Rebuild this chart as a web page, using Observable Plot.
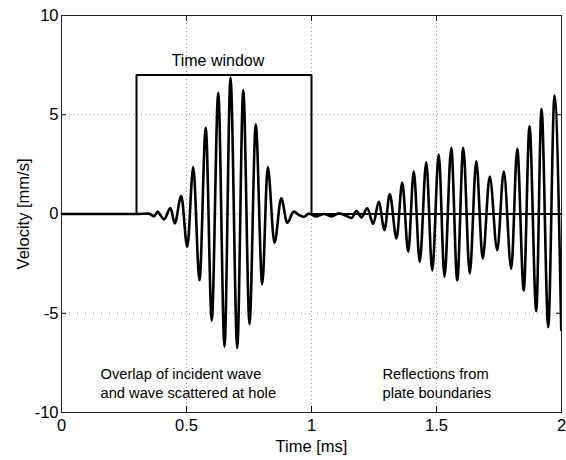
<!DOCTYPE html>
<html>
<head>
<meta charset="utf-8">
<script src="https://cdn.jsdelivr.net/npm/d3@7"></script>
<script src="https://cdn.jsdelivr.net/npm/@observablehq/plot@0.6"></script>
<style>
  html, body { margin: 0; padding: 0; background: #fff; }
  #chart { width: 566px; height: 460px; }
</style>
</head>
<body>
<div id="chart"></div>
<script>
// Measured velocity trace: time [ms] of each turning point and its velocity [mm/s]
const times = [0, 0.30, 0.35, 0.37, 0.385, 0.395, 0.41, 0.436, 0.453, 0.479, 0.503, 0.527, 0.552, 0.577, 0.601, 0.627, 0.652, 0.676, 0.703, 0.727, 0.752, 0.777, 0.803, 0.825, 0.852, 0.879, 0.903, 0.929, 0.95, 0.969, 0.99,
  1.02, 1.05, 1.08, 1.11, 1.14, 1.16, 1.18, 1.2, 1.223, 1.247, 1.269, 1.292, 1.313, 1.34, 1.363, 1.387, 1.409, 1.433, 1.459, 1.483, 1.509, 1.532, 1.559, 1.583, 1.607, 1.633, 1.659, 1.685, 1.713, 1.743, 1.769, 1.799, 1.823, 1.849, 1.872, 1.899, 1.92, 1.947, 1.972, 1.999];
const velocity = [0, 0, 0.02, -0.12, 0.12, -0.05, -0.27, 0.3, -0.47, 0.91, -1.65, 2.36, -3.34, 4.34, -5.37, 6.11, -6.68, 6.87, -6.75, 6.24, -5.54, 4.5, -3.54, 2.36, -1.45, 0.79, -0.44, 0.12, -0.05, -0.14, 0.02,
  -0.12, 0.0, -0.12, 0.03, -0.1, -0.2, 0.15, -0.17, 0.29, -0.5, 0.62, -0.81, 1.01, -1.23, 1.58, -1.9, 2.14, -2.41, 2.6, -2.84, 2.99, -3.17, 3.33, -3.34, 3.33, -3.0, 2.65, -2.24, 1.89, -1.82, 2.14, -2.75, 3.28, -3.85, 4.42, -4.9, 5.3, -5.7, 5.97, -5.84];

// Time window (step function)
const windowT = [0, 0.3, 0.3, 1.0, 1.0, 2.0];
const windowV = [0, 0, 7, 7, 0, 0];

// Axis ticks and grid
const xTicks = [0, 0.5, 1, 1.5, 2];
const yTicks = [-10, -5, 0, 5, 10];
const xGrid = [0.5, 1, 1.5];
const yGrid = [-5, 0, 5];

// Annotations
const noteLabels = ["Time window", "Overlap of incident wave", "and wave scattered at hole", "Reflections from", "plate boundaries"];
const noteT = [0.44, 0.156, 0.156, 1.284, 1.284];
const noteV = [7.7, -8.06, -9.02, -8.06, -9.02];
const noteSize = [16, 14.7, 14.7, 14.7, 14.7];

const trace = times.map((t, i) => ({t, v: velocity[i]}));
const win = windowT.map((t, i) => ({t, v: windowV[i]}));
const notes = noteLabels.map((s, i) => ({s, t: noteT[i], v: noteV[i], size: noteSize[i]}));

const chart = Plot.plot({
  width: 566,
  height: 460,
  marginLeft: 61,
  marginRight: 5,
  marginTop: 15,
  marginBottom: 48,
  style: {fontFamily: "'Liberation Sans', Arial, sans-serif", background: "#fff", color: "#000"},
  x: {domain: [0, 2]},
  y: {domain: [-10, 10]},
  marks: [
    Plot.gridX(xGrid, {stroke: "#999", strokeOpacity: 1, strokeDasharray: "1,3"}),
    Plot.gridY(yGrid, {stroke: "#999", strokeOpacity: 1, strokeDasharray: "1,3"}),
    Plot.tickX(xTicks, {x: d => d, insetTop: 391, stroke: "#000"}),
    Plot.tickX(xTicks, {x: d => d, insetBottom: 391, stroke: "#000"}),
    Plot.tickY(yTicks, {y: d => d, insetRight: 495, stroke: "#000"}),
    Plot.tickY(yTicks, {y: d => d, insetLeft: 495, stroke: "#000"}),
    Plot.frame({stroke: "#222"}),
    Plot.line(win, {x: "t", y: "v", stroke: "#000", strokeWidth: 2}),
    Plot.line(trace, {x: "t", y: "v", stroke: "#000", strokeWidth: 2.6, curve: "monotone-x", clip: true}),
    ...notes.map(n => Plot.text([n], {x: "t", y: "v", text: "s", textAnchor: "start", fontSize: n.size, fill: "#000"})),
    Plot.axisX(xTicks, {tickSize: 0, tickPadding: 7, fontSize: 16.5, tickFormat: d => String(d),
      label: "Time [ms]", labelAnchor: "center", labelArrow: "none", labelOffset: 39}),
    Plot.axisY(yTicks, {tickSize: 0, tickPadding: 3, fontSize: 16.5, tickFormat: d => String(d),
      label: "Velocity [mm/s]", labelAnchor: "center", labelArrow: "none", labelOffset: 44})
  ]
});
document.getElementById("chart").appendChild(chart);
</script>
</body>
</html>
